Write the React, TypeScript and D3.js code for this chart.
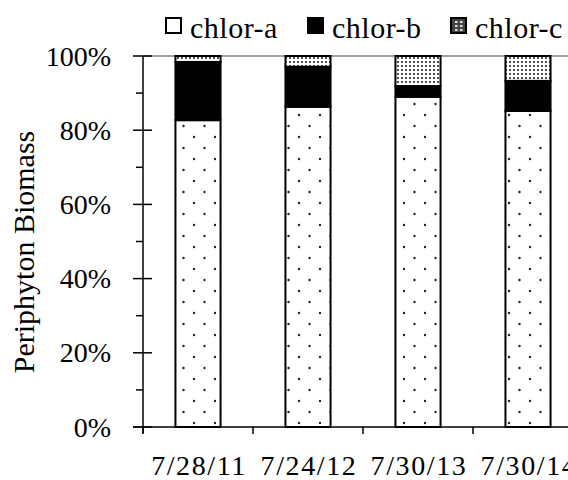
import React from 'react';
import * as d3 from 'd3';

const dates = ['7/28/11', '7/24/12', '7/30/13', '7/30/14'];
const chlorA = [82.7, 86.3, 89.0, 85.2];
const chlorB = [15.7, 10.8, 2.9, 8.1];
const chlorC = [1.6, 2.9, 8.1, 6.7];
const seriesNames = ['chlor-a', 'chlor-b', 'chlor-c'];
const yTicks = [0, 20, 40, 60, 80, 100];
const yMinorTicks = [10, 30, 50, 70, 90];

const fills = ['url(#sparse)', '#000', 'url(#dense)'];
const font = '"Times New Roman", Times, "Liberation Serif", serif';

export default function App() {
  const width = 568;
  const height = 480;

  const rows = dates.map((d, i) => ({ date: d, 'chlor-a': chlorA[i], 'chlor-b': chlorB[i], 'chlor-c': chlorC[i] }));
  const stacked = d3.stack<any>().keys(seriesNames)(rows);

  const x = d3.scaleBand().domain(dates).range([143, 583]).padding(0);
  const y = d3.scaleLinear().domain([0, 100]).range([427, 56]);
  const barW = x.bandwidth() * 0.41;

  return (
    <svg width={width} height={height} style={{ position: 'absolute', left: 0, top: 0, background: '#fff', fontFamily: font }}>
      <defs>
        <pattern id="sparse" width={21} height={22} patternUnits="userSpaceOnUse">
          <rect width={21} height={22} fill="#fff" />
          <circle cx={5} cy={5} r={1.2} fill="#222" />
          <circle cx={15.5} cy={16} r={1.2} fill="#222" />
        </pattern>
        <pattern id="dense" width={4} height={4} patternUnits="userSpaceOnUse">
          <rect width={4} height={4} fill="#fff" />
          <circle cx={2} cy={2} r={1.05} fill="#222" />
        </pattern>
      </defs>

      {/* plot frame top */}
      <line x1={143} x2={width} y1={56} y2={56} stroke="#444" strokeWidth={1} />

      {/* bars */}
      {stacked.map((s, si) => (
        <g key={s.key}>
          {s.map((d, i) => (
            <rect key={i}
              x={x(dates[i])! + (x.bandwidth() - barW) / 2}
              y={y(d[1])}
              width={barW}
              height={y(d[0]) - y(d[1])}
              fill={fills[si]}
              stroke="#000"
              strokeWidth={2} />
          ))}
        </g>
      ))}

      {/* y axis */}
      <line x1={143} x2={143} y1={56} y2={433} stroke="#000" strokeWidth={1.5} />
      {yTicks.map(t => (
        <g key={t}>
          <line x1={133} x2={152} y1={y(t)} y2={y(t)} stroke="#000" strokeWidth={1.5} />
          <text x={111} y={y(t)} dy="0.34em" textAnchor="end" fontSize={28}>{t}%</text>
        </g>
      ))}
      {yMinorTicks.map(t => (
        <line key={t} x1={136} x2={143} y1={y(t)} y2={y(t)} stroke="#000" strokeWidth={1.5} />
      ))}

      {/* x axis */}
      <line x1={133} x2={width} y1={427} y2={427} stroke="#000" strokeWidth={1.5} />
      {dates.map(d => (
        <g key={d}>
          <line x1={x(d)!} x2={x(d)!} y1={427} y2={434} stroke="#000" strokeWidth={1.5} />
          <text x={x(d)! + x.bandwidth() / 2 + 1} y={475} textAnchor="middle" fontSize={28} letterSpacing={1.6}>{d}</text>
        </g>
      ))}

      {/* y title */}
      <text transform={`translate(34,252) rotate(-90)`} textAnchor="middle" fontSize={30}>Periphyton Biomass</text>

      {/* legend */}
      {seriesNames.map((name, i) => {
        const lx = [165, 307, 450][i];
        return (
          <g key={name}>
            <rect x={lx + 1} y={18} width={15} height={15} fill={i === 0 ? '#fff' : i === 2 ? '#444' : fills[i]} stroke="#000" strokeWidth={2} />
            {i === 2 && [0, 1, 2].map(r => [0, 1].map(c => (
              <rect key={`${r}${c}`} x={lx + 5 + c * 5} y={21 + r * 4} width={2.5} height={2} fill="#ddd" />
            )))}
            <text x={lx + 25} y={38} fontSize={30} letterSpacing={0.5}>{name}</text>
          </g>
        );
      })}
    </svg>
  );
}
